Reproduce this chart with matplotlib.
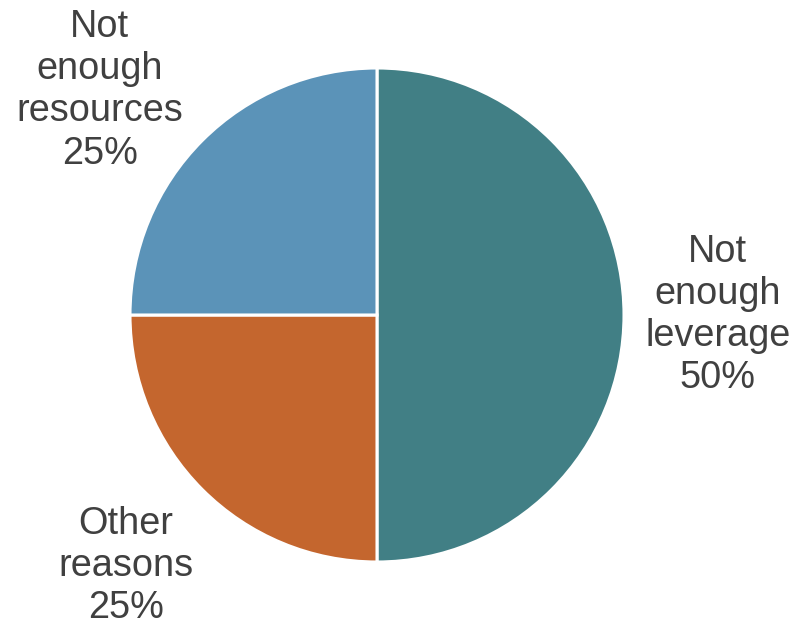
import numpy as np
import matplotlib
matplotlib.use("Agg")
import matplotlib.pyplot as plt

categories = ["Not\nenough\nleverage", "Other\nreasons", "Not\nenough\nresources"]
shares = [50, 25, 25]
colors = ["#417f85", "#c4662e", "#5b93b8"]
# label placement: radial distance (in radii) and angular shift from wedge middle
label_dist = [1.38, 1.437, 1.445]
label_shift = [0.0, 0.0, 6.0]

plt.rcParams["font.family"] = ["Liberation Sans", "DejaVu Sans"]

fig = plt.figure(figsize=(8.06, 6.2), dpi=100)
ax = fig.add_axes([130 / 806, 58 / 620, 494 / 806, 494 / 620])

wedges, _ = ax.pie(shares, colors=colors, startangle=90, counterclock=False,
                   radius=1.0,
                   wedgeprops=dict(edgecolor="white", linewidth=2.2))
ax.set_xlim(-1, 1)
ax.set_ylim(-1, 1)
ax.set_aspect("equal")

for w, cat, val, d, s in zip(wedges, categories, shares, label_dist, label_shift):
    mid = np.deg2rad((w.theta1 + w.theta2) / 2 + s)
    ax.text(d * np.cos(mid), d * np.sin(mid), f"{cat}\n{val}%",
            ha="center", va="center", fontsize=27.3, color="#404040",
            linespacing=1.22, clip_on=False)

fig.savefig("out.png", dpi=100)
